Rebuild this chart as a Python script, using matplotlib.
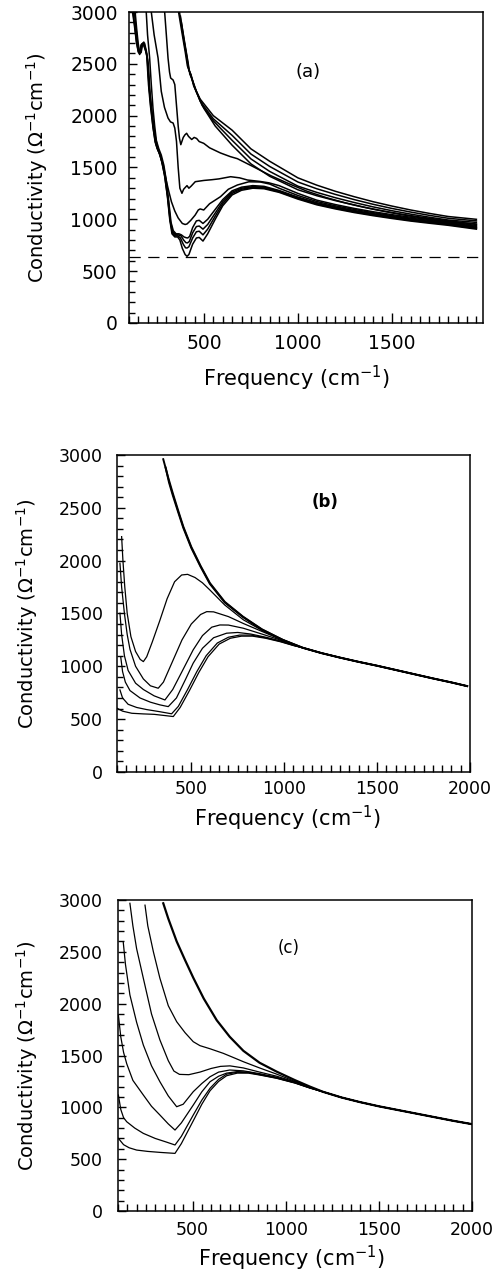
import matplotlib
matplotlib.use('Agg')
import matplotlib.pyplot as plt
from matplotlib.ticker import MultipleLocator

plt.rcParams['font.family'] = 'DejaVu Sans'
plt.rcParams['mathtext.default'] = 'regular'

# ---------------- panel (a): measured conductivity, (freq, sigma) pairs ----------------
a_low1 = [(120, 3000), (130, 2870), (140, 2720), (150, 2620), (158, 2590), (165, 2680), (175, 2700),
          (185, 2650), (195, 2600), (205, 2300), (215, 2100), (228, 1900), (240, 1750), (250, 1690),
          (262, 1640), (275, 1560), (290, 1430), (305, 1230), (318, 1000), (330, 860), (345, 830),
          (360, 830), (372, 800), (385, 720), (400, 660), (410, 643), (420, 660), (440, 760),
          (460, 820), (475, 825), (495, 790), (520, 860), (560, 1000), (600, 1130), (650, 1235),
          (700, 1280), (760, 1300), (820, 1295), (900, 1260), (1000, 1195), (1100, 1140),
          (1200, 1100), (1300, 1065), (1400, 1035), (1500, 1008), (1600, 983), (1700, 962),
          (1800, 942), (1950, 905)]
a_low2 = [(123, 3000), (133, 2850), (142, 2700), (152, 2610), (160, 2600), (168, 2690), (178, 2700),
          (188, 2640), (198, 2560), (208, 2280), (218, 2080), (230, 1880), (242, 1740), (252, 1680),
          (265, 1630), (278, 1540), (292, 1410), (307, 1210), (320, 990), (332, 870), (347, 840),
          (362, 840), (375, 820), (390, 760), (402, 725), (410, 723), (420, 735), (440, 820),
          (460, 880), (475, 885), (495, 850), (520, 905), (560, 1030), (600, 1150), (650, 1250),
          (700, 1290), (760, 1308), (820, 1302), (900, 1266), (1000, 1202), (1100, 1147),
          (1200, 1107), (1300, 1072), (1400, 1042), (1500, 1015), (1600, 990), (1700, 969),
          (1800, 949), (1950, 912)]
a_low3 = [(130, 3000), (138, 2850), (146, 2720), (155, 2610), (162, 2600), (170, 2680), (180, 2710),
          (190, 2640), (200, 2540), (210, 2250), (222, 2050), (234, 1860), (245, 1730), (255, 1670),
          (268, 1610), (282, 1520), (296, 1390), (310, 1190), (322, 980), (334, 880), (349, 850),
          (364, 850), (378, 840), (392, 800), (404, 775), (412, 772), (422, 785), (440, 870),
          (460, 930), (475, 935), (495, 905), (520, 950), (560, 1060), (600, 1170), (650, 1262),
          (700, 1300), (760, 1315), (820, 1310), (900, 1272), (1000, 1208), (1100, 1153),
          (1200, 1113), (1300, 1078), (1400, 1048), (1500, 1021), (1600, 996), (1700, 975),
          (1800, 955), (1950, 918)]
a_low4 = [(134, 3000), (142, 2840), (150, 2700), (158, 2610), (166, 2610), (174, 2690), (184, 2700),
          (194, 2620), (204, 2500), (214, 2200), (226, 2000), (238, 1830), (250, 1720), (260, 1660),
          (272, 1600), (286, 1500), (300, 1370), (313, 1170), (325, 970), (337, 890), (352, 860),
          (367, 860), (380, 850), (394, 830), (406, 822), (414, 820), (424, 835), (440, 920),
          (460, 985), (475, 990), (495, 960), (520, 1000), (560, 1095), (600, 1190), (650, 1275),
          (700, 1310), (760, 1325), (820, 1318), (900, 1278), (1000, 1214), (1100, 1160),
          (1200, 1120), (1300, 1085), (1400, 1055), (1500, 1028), (1600, 1003), (1700, 981),
          (1800, 961), (1950, 924)]
a_low5 = [(193, 3000), (200, 2780), (211, 2560), (220, 2300), (229, 2070), (238, 1900), (247, 1760),
          (260, 1680), (273, 1620), (287, 1520), (300, 1370), (313, 1270), (327, 1170), (345, 1080),
          (363, 1013), (385, 960), (400, 950), (410, 955), (430, 990), (453, 1040), (470, 1090),
          (480, 1100), (499, 1090), (530, 1150), (588, 1218), (630, 1290), (678, 1331), (739, 1362),
          (800, 1360), (850, 1340), (900, 1300), (1000, 1230), (1100, 1172), (1200, 1130),
          (1300, 1095), (1400, 1064), (1500, 1036), (1600, 1011), (1700, 989), (1800, 968),
          (1950, 932)]
a_mid1 = [(220, 3000), (235, 2780), (256, 2556), (273, 2235), (290, 2080), (309, 1977), (322, 1940),
          (336, 1929), (345, 1880), (354, 1752), (363, 1500), (372, 1300), (383, 1251), (392, 1290),
          (402, 1310), (410, 1325), (420, 1300), (432, 1320), (454, 1363), (500, 1375),
          (542, 1382), (580, 1390), (642, 1411), (690, 1400), (732, 1379), (800, 1365), (846, 1352),
          (900, 1325), (1000, 1250), (1100, 1185), (1200, 1142), (1300, 1105), (1400, 1073),
          (1500, 1045), (1600, 1020), (1700, 997), (1800, 976), (1950, 940)]
a_mid2 = [(291, 3000), (300, 2780), (309, 2556), (317, 2420), (323, 2363), (336, 2344), (345, 2300),
          (354, 2100), (363, 1900), (370, 1780), (377, 1720), (390, 1790), (399, 1815), (408, 1830),
          (418, 1800), (435, 1770), (448, 1790), (461, 1780), (475, 1750), (499, 1733), (530, 1690),
          (588, 1640), (640, 1605), (678, 1585), (760, 1510), (857, 1420), (950, 1345), (1050, 1270),
          (1150, 1210), (1250, 1160), (1350, 1118), (1450, 1082), (1550, 1050), (1650, 1022),
          (1750, 998), (1850, 975), (1950, 950)]
a_drude1 = [(365, 3000), (385, 2780), (400, 2620), (412, 2480), (420, 2440), (430, 2400), (445, 2290),
            (480, 2160), (550, 2000), (650, 1860), (750, 1680), (850, 1560), (1000, 1400), (1100, 1330),
            (1200, 1270), (1300, 1218), (1400, 1170), (1500, 1128), (1600, 1090), (1700, 1057),
            (1800, 1027), (1950, 1000)]
a_drude2 = [(370, 3000), (390, 2760), (405, 2600), (416, 2470), (425, 2420), (438, 2340), (480, 2140),
            (550, 1970), (650, 1810), (750, 1630), (850, 1510), (1000, 1360), (1100, 1295), (1200, 1240),
            (1300, 1190), (1400, 1145), (1500, 1105), (1600, 1070), (1700, 1038), (1800, 1010),
            (1950, 985)]
a_drude3 = [(375, 2960), (395, 2720), (410, 2560), (420, 2440), (432, 2390), (450, 2270), (490, 2100),
            (550, 1950), (650, 1762), (750, 1583), (850, 1462), (1000, 1320), (1100, 1260), (1200, 1208),
            (1300, 1162), (1400, 1120), (1500, 1083), (1600, 1050), (1700, 1020), (1800, 993),
            (1950, 970)]
a_drude4 = [(380, 2900), (400, 2680), (415, 2520), (425, 2400), (440, 2340), (460, 2230), (500, 2070),
            (560, 1900), (650, 1715), (750, 1535), (850, 1415), (1000, 1285), (1100, 1228), (1200, 1180),
            (1300, 1137), (1400, 1097), (1500, 1062), (1600, 1030), (1700, 1003), (1800, 978),
            (1950, 955)]
a_dashed_level = 640

# ---------------- panel (b): model curves ----------------
b_tail = [(1100, 1175), (1200, 1125), (1300, 1082), (1400, 1042), (1500, 1005), (1600, 965),
          (1700, 925), (1800, 885), (1900, 847), (1985, 812)]
b_drude1 = [(349, 2960), (375, 2790), (400, 2640), (430, 2470), (457, 2322), (500, 2130), (550, 1950),
            (600, 1788), (680, 1610), (778, 1470), (880, 1350), (993, 1250)]
b_drude2 = [(362, 2880), (380, 2740), (400, 2620), (430, 2455), (457, 2310), (500, 2120), (550, 1942),
            (600, 1780), (680, 1604), (778, 1466), (880, 1347), (993, 1248)]
b_c2 = [(125, 2227), (132, 2000), (142, 1750), (155, 1500), (175, 1280), (200, 1140), (225, 1065),
        (242, 1044), (260, 1090), (290, 1230), (330, 1430), (370, 1640), (410, 1800), (448, 1864),
        (480, 1870), (520, 1840), (560, 1790), (600, 1722), (680, 1580), (780, 1440), (880, 1340),
        (960, 1275), (1050, 1210)]
b_c3 = [(116, 1975), (125, 1750), (140, 1500), (155, 1300), (170, 1160), (200, 1000), (242, 880),
        (280, 815), (322, 792), (350, 850), (400, 1050), (450, 1250), (500, 1400), (550, 1490),
        (583, 1517), (620, 1515), (700, 1470), (780, 1405), (880, 1330), (960, 1270), (1050, 1205)]
b_c4 = [(116, 1502), (125, 1300), (140, 1100), (160, 960), (200, 840), (242, 780), (300, 720),
        (358, 681), (400, 780), (450, 950), (510, 1155), (560, 1290), (610, 1370), (654, 1391),
        (700, 1390), (780, 1360), (880, 1305), (960, 1260), (1050, 1200)]
b_c5 = [(120, 1091), (130, 950), (145, 850), (170, 770), (224, 700), (280, 660), (330, 635),
        (376, 618), (420, 700), (470, 880), (510, 1029), (560, 1170), (620, 1270), (690, 1313),
        (750, 1320), (820, 1305), (900, 1275), (980, 1240), (1050, 1200)]
b_c6 = [(116, 776), (130, 700), (160, 640), (206, 610), (260, 590), (330, 570), (394, 550),
        (430, 620), (480, 780), (530, 950), (580, 1100), (640, 1220), (700, 1275), (760, 1295),
        (820, 1295), (900, 1270), (980, 1235), (1050, 1198)]
b_c7 = [(100, 603), (130, 575), (180, 555), (242, 549), (300, 545), (350, 535), (403, 524),
        (440, 610), (490, 770), (540, 940), (590, 1090), (650, 1210), (710, 1265), (770, 1285),
        (830, 1285), (900, 1265), (980, 1232), (1050, 1196)]

# ---------------- panel (c): model curves ----------------
c_tail = [(1200, 1150), (1300, 1095), (1400, 1050), (1500, 1010), (1600, 975), (1700, 940),
          (1800, 905), (1900, 870), (2000, 838)]
c_drude = [(343, 2968), (370, 2820), (415, 2600), (460, 2420), (504, 2250), (560, 2050), (630, 1840),
           (700, 1680), (773, 1545), (860, 1430), (952, 1344), (1050, 1262), (1130, 1200)]
c_A = [(245, 2950), (260, 2750), (290, 2500), (325, 2245), (370, 1980), (415, 1826), (460, 1720),
       (504, 1633), (540, 1595), (594, 1565), (665, 1521), (720, 1480), (773, 1440), (860, 1380),
       (952, 1320), (1050, 1250), (1130, 1195)]
c_B = [(164, 2968), (180, 2750), (200, 2530), (236, 2245), (280, 1900), (325, 1650), (370, 1450),
       (400, 1350), (430, 1318), (480, 1315), (540, 1340), (600, 1375), (650, 1395), (701, 1400),
       (773, 1380), (860, 1340), (952, 1300), (1050, 1245), (1130, 1192)]
c_C = [(128, 2598), (140, 2380), (164, 2084), (200, 1820), (236, 1601), (280, 1400), (325, 1247),
       (370, 1110), (415, 1006), (450, 1030), (504, 1151), (550, 1230), (594, 1295), (640, 1340),
       (700, 1360), (773, 1352), (860, 1325), (952, 1290), (1050, 1240), (1130, 1190)]
c_D = [(102, 1891), (115, 1680), (130, 1530), (147, 1420), (180, 1260), (236, 1119), (280, 1010),
       (325, 926), (370, 840), (406, 781), (440, 850), (504, 1022), (550, 1150), (594, 1247),
       (640, 1300), (683, 1330), (740, 1345), (800, 1340), (860, 1318), (952, 1285), (1050, 1238),
       (1130, 1188)]
c_E = [(102, 1119), (115, 980), (130, 900), (147, 861), (190, 800), (236, 749), (300, 700),
       (360, 665), (406, 637), (440, 720), (504, 926), (550, 1070), (594, 1184), (640, 1270),
       (683, 1320), (740, 1338), (800, 1335), (860, 1315), (952, 1282), (1050, 1236), (1130, 1187)]
c_F = [(102, 701), (130, 640), (160, 610), (200, 588), (260, 575), (330, 565), (406, 556),
       (440, 650), (504, 870), (550, 1030), (594, 1160), (640, 1250), (683, 1305), (740, 1330),
       (800, 1330), (860, 1312), (952, 1280), (1050, 1234), (1130, 1186)]

ylabel = r'Conductivity ($\Omega^{-1}$cm$^{-1}$)'
xlabel = r'Frequency (cm$^{-1}$)'


def draw(ax, pts, lw):
    xs, ys = zip(*pts)
    ax.plot(xs, ys, color='black', lw=lw, solid_joinstyle='round')


def style(ax, xmax, xticks, tsize, ypad, xpad, ylab_xy, xlab_xy):
    ax.set_xlim(100, xmax)
    ax.set_ylim(0, 3000)
    ax.set_xticks(xticks)
    ax.xaxis.set_minor_locator(MultipleLocator(50))
    ax.yaxis.set_major_locator(MultipleLocator(500))
    ax.yaxis.set_minor_locator(MultipleLocator(100))
    ax.tick_params(which='both', direction='in', top=False, right=False, width=1.0)
    ax.tick_params(axis='x', which='major', length=7, pad=xpad)
    ax.tick_params(axis='x', which='minor', length=5)
    ax.tick_params(axis='y', which='major', length=6, pad=ypad)
    ax.tick_params(axis='y', which='minor', length=4)
    for lab in ax.get_xticklabels() + ax.get_yticklabels():
        lab.set_fontsize(tsize)
    for s in ax.spines.values():
        s.set_linewidth(1.1)
    ax.set_ylabel(ylabel, fontsize=14)
    ax.set_xlabel(xlabel, fontsize=15)
    ax.yaxis.set_label_coords(*ylab_xy)
    ax.xaxis.set_label_coords(*xlab_xy)


fig = plt.figure(figsize=(5.01, 12.78), dpi=100)

# panel (a)
ax1 = fig.add_axes([0.257, 0.7473, 0.707, 0.2433])
for c in [a_low1, a_low2, a_low3, a_low4, a_low5, a_mid1, a_mid2,
          a_drude1, a_drude2, a_drude3, a_drude4]:
    draw(ax1, c, 1.1)
ax1.axhline(a_dashed_level, color='black', lw=0.9, dashes=(9, 6))
ax1.text(1055, 2420, '(a)', fontsize=13, ha='center', va='center')
style(ax1, 1985, [500, 1000, 1500], 13.5, 8, 8, (-0.223, 0.5), (0.475, -0.13))

# panel (b)
ax2 = fig.add_axes([0.2335, 0.396, 0.7046, 0.248])
for c in [b_drude1, b_drude2]:
    draw(ax2, c + b_tail, 1.4)
for c in [b_c2, b_c3, b_c4, b_c5, b_c6, b_c7]:
    draw(ax2, c + b_tail, 0.9)
ax2.text(1219, 2558, '(b)', fontsize=12, fontweight='bold', ha='center', va='center')
style(ax2, 2000, [500, 1000, 1500, 2000], 12.5, 10, 6, (-0.218, 0.5), (0.484, -0.1))

# panel (c)
ax3 = fig.add_axes([0.2355, 0.0524, 0.7066, 0.2434])
draw(ax3, c_drude + c_tail, 1.6)
for c in [c_A, c_B, c_C, c_D, c_E, c_F]:
    draw(ax3, c + c_tail, 0.9)
ax3.text(1014, 2534, '(c)', fontsize=12, ha='center', va='center')
style(ax3, 2000, [500, 1000, 1500, 2000], 12.5, 11, 7, (-0.22, 0.5), (0.49, -0.105))

fig.savefig('out.png', dpi=100)
